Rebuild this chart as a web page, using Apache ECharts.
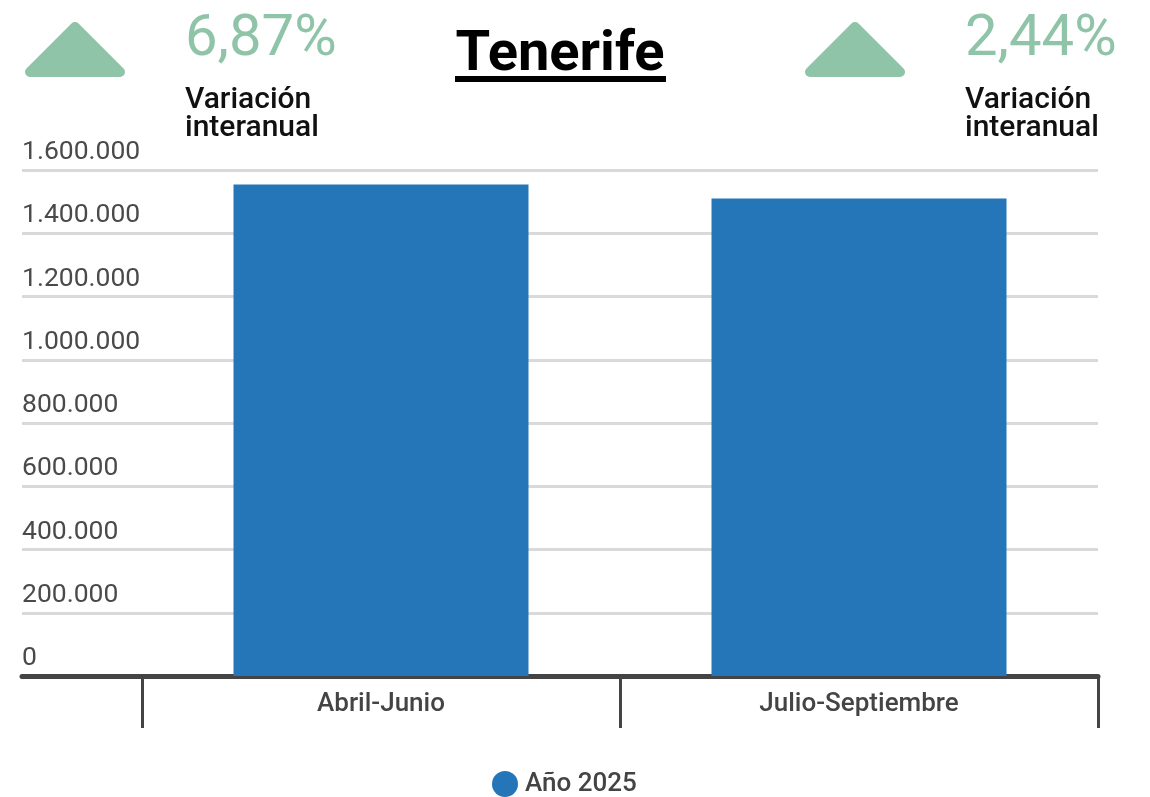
<!DOCTYPE html>
<html>
<head>
<meta charset="utf-8">
<title>Tenerife</title>
<script src="https://cdn.jsdelivr.net/npm/echarts@6/dist/echarts.min.js"></script>
<style>
  html, body { margin: 0; padding: 0; background: #fff; }
  #chart { width: 1150px; height: 797px; }
</style>
</head>
<body>
<div id="chart"></div>
<script>
// datos
var categorias = ["Abril-Junio", "Julio-Septiembre"];
var valores2025 = [1554000, 1510000];
var nombreSerie = "Año 2025";
var variaciones = ["6,87%", "2,44%"];
var ejeMax = 1600000;
var ejeIntervalo = 200000;

var verde = "#8fc4a8";
var azul = "#2476b8";

function miles(v) {
  return String(v).replace(/\B(?=(\d{3})+(?!\d))/g, ".");
}

function flecha(x0) {
  return {
    type: "polygon",
    shape: { points: [[x0 + 5, 72], [x0 + 50, 27], [x0 + 95, 72]] },
    style: { fill: verde, stroke: verde, lineWidth: 10, lineJoin: "round" }
  };
}
function textoVar(x0, txt) {
  return [
    {
      type: "text", left: x0, top: 11,
      style: { text: txt, fill: verde, font: "400 58px Roboto" }
    },
    {
      type: "text", left: x0, top: 85,
      style: { text: "Variación\ninteranual", fill: "#111", font: "500 30px Roboto", lineHeight: 28 }
    }
  ];
}

var myChart = echarts.init(document.getElementById("chart"));
myChart.setOption({
  animation: false,
  textStyle: { fontFamily: "Roboto" },
  grid: [
    { left: 22, right: 52, top: 170, bottom: 121 },
    { left: 142, right: 52, top: 170, bottom: 121 }
  ],
  xAxis: [
    {
      gridIndex: 0,
      type: "category",
      data: [""],
      offset: 2.5,
      axisLine: { show: true, lineStyle: { color: "#444", width: 5 } },
      axisTick: { show: false },
      axisLabel: { show: false }
    },
    {
      gridIndex: 1,
      type: "category",
      data: categorias,
      offset: 5,
      axisLine: { show: false },
      axisTick: { show: true, length: 52, lineStyle: { color: "#444", width: 3 } },
      axisLabel: { color: "#444", fontSize: 26, fontWeight: 500, margin: 10 }
    }
  ],
  yAxis: [
    {
      gridIndex: 0,
      type: "value",
      min: 0,
      max: ejeMax,
      interval: ejeIntervalo,
      axisLine: { show: false },
      axisTick: { show: false },
      splitLine: { lineStyle: { color: "#d9d9d9", width: 3 } },
      axisLabel: {
        inside: true,
        margin: 0,
        align: "left",
        verticalAlign: "bottom",
        padding: [0, 0, 4, 0],
        color: "#4a4a4a",
        fontSize: 26.5,
        formatter: miles
      }
    },
    {
      gridIndex: 1,
      type: "value",
      min: 0,
      max: ejeMax,
      interval: ejeIntervalo,
      show: false
    }
  ],
  legend: {
    left: 487,
    top: 766,
    icon: "circle",
    itemWidth: 26,
    itemHeight: 26,
    itemGap: 10,
    textStyle: { color: "#444", fontSize: 26, fontWeight: 500, padding: [0, 0, 0, 2] },
    data: [nombreSerie]
  },
  series: [
    {
      name: nombreSerie,
      type: "bar",
      xAxisIndex: 1,
      yAxisIndex: 1,
      data: valores2025,
      barWidth: 295,
      itemStyle: { color: azul }
    }
  ],
  graphic: [
    flecha(25),
    flecha(805),
    {
      type: "text", x: 560, y: 56,
      style: { text: "Tenerife", fill: "#000", font: "700 56px Roboto", align: "center", verticalAlign: "middle" }
    },
    {
      type: "rect",
      shape: { x: 455, y: 76, width: 211, height: 6 },
      style: { fill: "#000" }
    }
  ].concat(textoVar(185, variaciones[0]), textoVar(965, variaciones[1]))
});
</script>
</body>
</html>
